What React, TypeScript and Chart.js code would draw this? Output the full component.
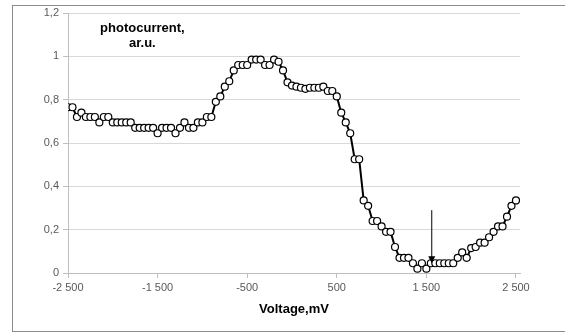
import React, { useEffect, useRef } from "react";
import { Chart, registerables } from "chart.js";

Chart.register(...registerables);

const voltageStart = -2500;
const voltageStep = 50;
const photocurrent: number[] = [
  0.765, 0.765, 0.72, 0.74, 0.72, 0.72, 0.72, 0.695, 0.72, 0.72,
  0.695, 0.695, 0.695, 0.695, 0.695, 0.67, 0.67, 0.67, 0.67, 0.67,
  0.645, 0.67, 0.67, 0.67, 0.645, 0.67, 0.695, 0.67, 0.67, 0.695,
  0.695, 0.72, 0.72, 0.79, 0.815, 0.86, 0.885, 0.935, 0.96, 0.96,
  0.96, 0.985, 0.985, 0.985, 0.96, 0.96, 0.985, 0.975, 0.935, 0.88,
  0.865, 0.86, 0.855, 0.85, 0.855, 0.855, 0.855, 0.86, 0.84, 0.84,
  0.815, 0.74, 0.695, 0.645, 0.525, 0.525, 0.335, 0.31, 0.24, 0.24,
  0.215, 0.19, 0.19, 0.12, 0.07, 0.07, 0.07, 0.045, 0.02, 0.045,
  0.02, 0.045, 0.045, 0.045, 0.045, 0.045, 0.045, 0.07, 0.095, 0.07,
  0.115, 0.12, 0.14, 0.14, 0.165, 0.19, 0.215, 0.215, 0.26, 0.31,
  0.335,
];
const voltages: number[] = photocurrent.map((_, i) => voltageStart + i * voltageStep);

const xTicks: number[] = [-2500, -1500, -500, 500, 1500, 2500];
const yTicks: number[] = [0, 0.2, 0.4, 0.6, 0.8, 1, 1.2];

const arrowX = 1560;
const arrowTop = 0.29;
const arrowTip = 0.045;

const xTitle = "Voltage,mV";
const yTitle = ["photocurrent,", "ar.u."];
const yTitleX = -1670;
const yTitleY = 1.128;

const fmtX = (v: number) => {
  const s = Math.abs(v).toString();
  const withSp = s.length > 3 ? s.slice(0, s.length - 3) + " " + s.slice(-3) : s;
  return (v < 0 ? "-" : "") + withSp;
};
const fmtY = (v: number) => (Math.round(v * 10) / 10).toString().replace(".", ",");

const overlayPlugin = {
  id: "overlay",
  afterDatasetsDraw(chart: any) {
    const { ctx, scales } = chart;
    const x = scales.x.getPixelForValue(arrowX);
    const y1 = scales.y.getPixelForValue(arrowTop);
    const y2 = scales.y.getPixelForValue(arrowTip);
    ctx.save();
    ctx.strokeStyle = "#000";
    ctx.fillStyle = "#000";
    ctx.lineWidth = 1;
    ctx.beginPath();
    ctx.moveTo(x, y1);
    ctx.lineTo(x, y2 - 5);
    ctx.stroke();
    ctx.beginPath();
    ctx.moveTo(x - 3.5, y2 - 7);
    ctx.lineTo(x + 3.5, y2 - 7);
    ctx.lineTo(x, y2);
    ctx.closePath();
    ctx.fill();
    ctx.font = "bold 13px 'Liberation Sans', Arial, sans-serif";
    ctx.fillStyle = "#000";
    ctx.textAlign = "center";
    ctx.textBaseline = "middle";
    const cx = scales.x.getPixelForValue(yTitleX);
    const cy = scales.y.getPixelForValue(yTitleY);
    ctx.fillText(yTitle[0], cx, cy);
    ctx.fillText(yTitle[1], cx, cy + 15);
    ctx.restore();
  },
};

export default function App() {
  const ref = useRef<HTMLCanvasElement | null>(null);
  useEffect(() => {
    if (!ref.current) return;
    const chart = new Chart(ref.current, {
      type: "line",
      data: {
        datasets: [
          {
            data: voltages.map((v, i) => ({ x: v, y: photocurrent[i] })),
            borderColor: "#000",
            borderWidth: 2,
            pointRadius: 3.5,
            pointBorderWidth: 1.2,
            pointBackgroundColor: "#fff",
            pointBorderColor: "#000",
            tension: 0,
          },
        ],
      },
      options: {
        animation: false,
        responsive: false,
        maintainAspectRatio: false,
        layout: { padding: { left: 0, right: 45, top: 13, bottom: 13 } },
        plugins: { legend: { display: false }, tooltip: { enabled: false } },
        scales: {
          x: {
            type: "linear",
            min: -2500,
            max: 2545,
            afterBuildTicks: (s: any) => {
              s.ticks = xTicks.map((v) => ({ value: v }));
            },
            afterFit: (s: any) => {
              s.height = 50;
            },
            ticks: {
              callback: (v: any) => fmtX(Number(v)),
              font: { family: "'Liberation Sans', Arial, sans-serif", size: 11 },
              color: "#595959",
              padding: 3,
              maxRotation: 0,
              autoSkip: false,
            },
            grid: {
              drawOnChartArea: false,
              drawTicks: true,
              tickLength: 5,
              tickColor: "#bfbfbf",
            },
            border: { color: "#bfbfbf" },
            title: {
              display: true,
              text: xTitle,
              font: { family: "'Liberation Sans', Arial, sans-serif", size: 13, weight: "bold" },
              color: "#000",
              padding: { top: 0, bottom: 6 },
            },
          },
          y: {
            type: "linear",
            min: 0,
            max: 1.2,
            afterBuildTicks: (s: any) => {
              s.ticks = yTicks.map((v) => ({ value: v }));
            },
            afterFit: (s: any) => {
              s.width = 68;
            },
            ticks: {
              callback: (v: any) => fmtY(Number(v)),
              font: { family: "'Liberation Sans', Arial, sans-serif", size: 11 },
              color: "#595959",
              padding: 4,
            },
            grid: {
              color: "#d9d9d9",
              lineWidth: 1,
              tickLength: 5,
              tickColor: "#bfbfbf",
            },
            border: { color: "#bfbfbf" },
          },
        },
      },
      plugins: [overlayPlugin],
    } as any);
    return () => chart.destroy();
  }, []);

  return (
    <div style={{ position: "fixed", left: 0, top: 0, width: 565, height: 336, overflow: "hidden", background: "#fff" }}>
      <div
        style={{
          position: "absolute",
          left: 12,
          top: 5,
          width: 620,
          height: 327,
          border: "1px solid #8c8c8c",
          boxSizing: "border-box",
        }}
      />
      <canvas ref={ref} width={565} height={336} style={{ position: "absolute", left: 0, top: 0 }} />
    </div>
  );
}
